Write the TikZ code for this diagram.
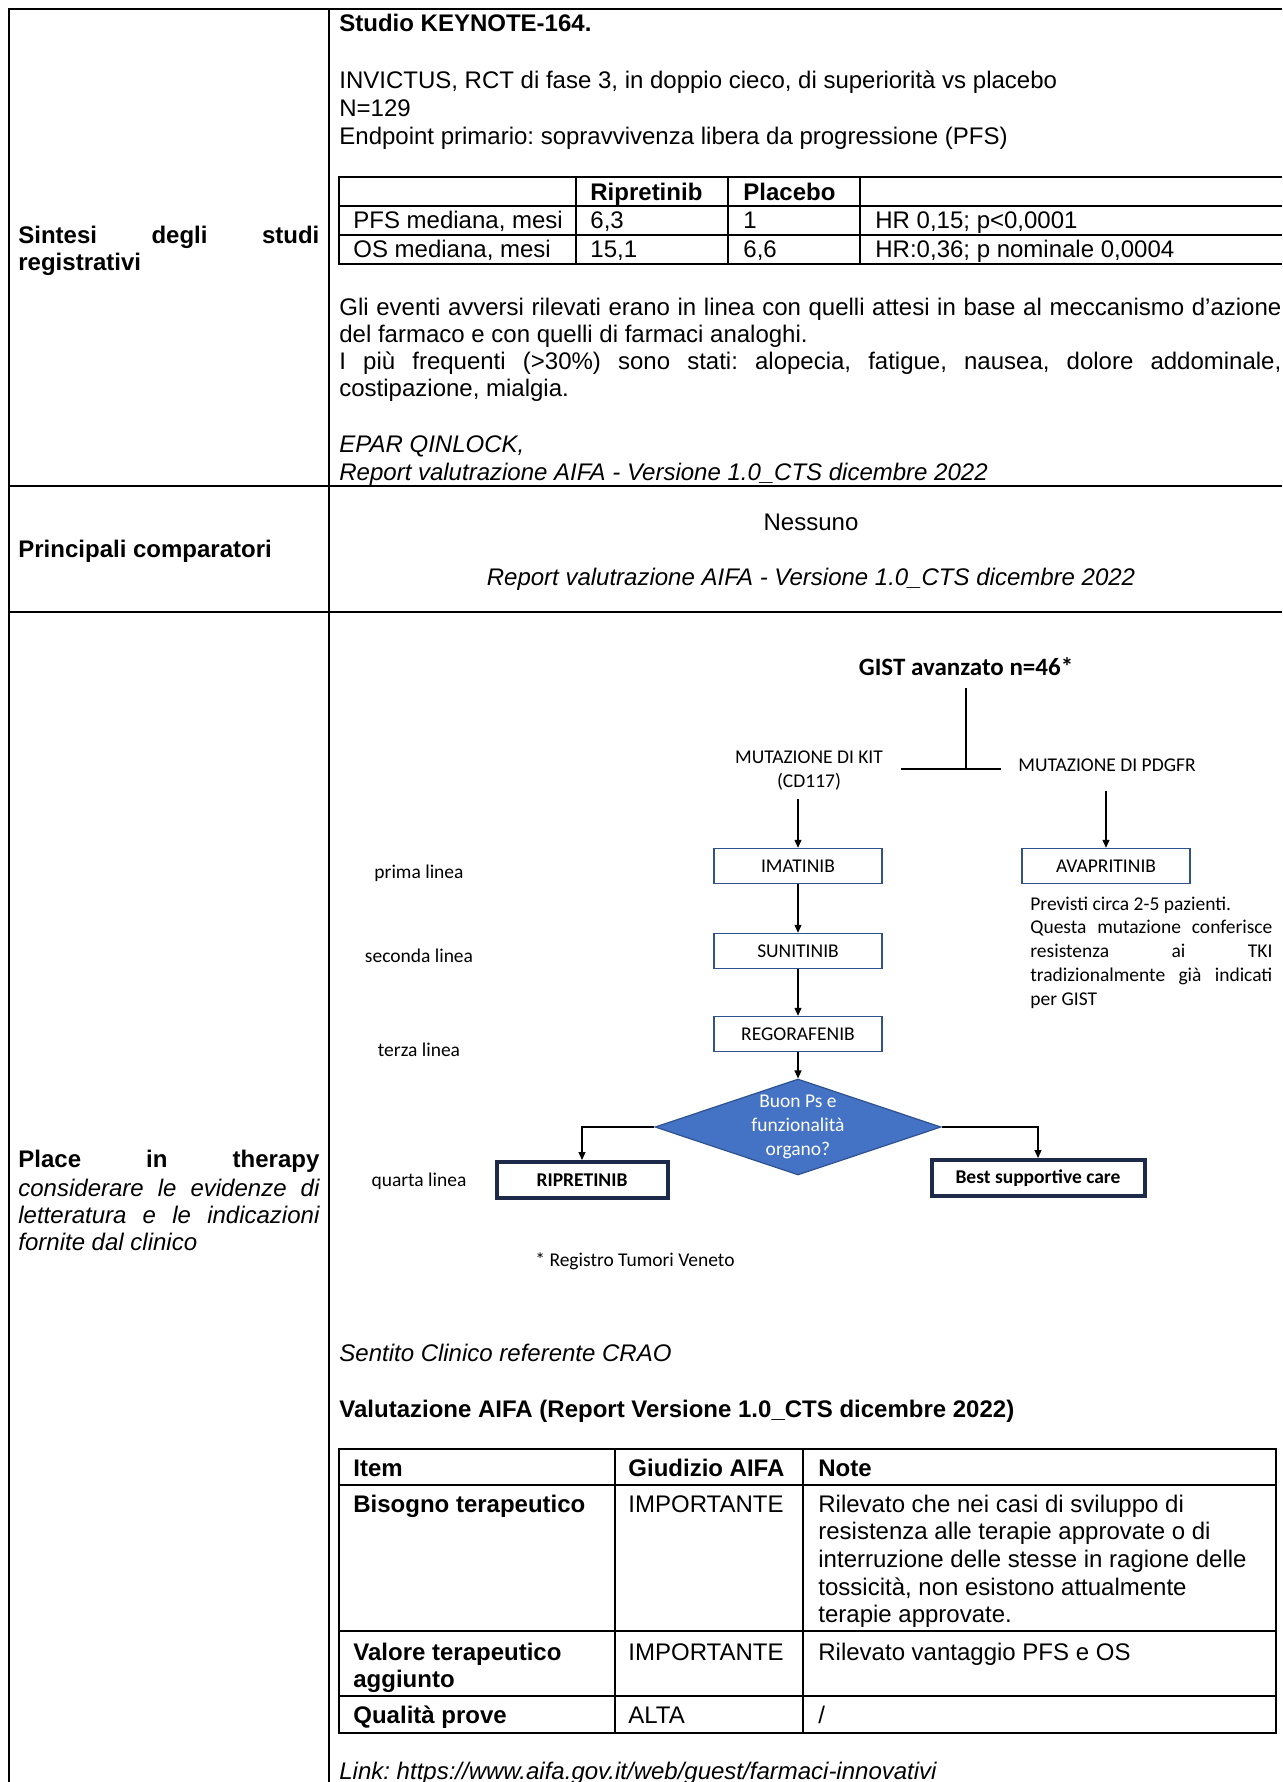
\documentclass[tikz,border=0pt]{standalone}
\usepackage{fontspec}
\setmainfont{Liberation Sans}
\newfontfamily\calibri{Carlito}
\usetikzlibrary{arrows.meta,shapes.geometric}
\definecolor{boxline}{RGB}{47,82,143}
\definecolor{navy}{RGB}{30,42,74}
\definecolor{decfill}{RGB}{68,114,196}
\frenchspacing
\begin{document}
\fontsize{12}{13.8}\selectfont
\begin{tikzpicture}[x=.5pt,y=-.5pt,
		txt/.style={anchor=base west,inner sep=0pt},
		fc/.style={inner sep=0pt,font=\calibri\fontsize{9.75}{12}\selectfont},
		box/.style={fc,draw=boxline,line width=.7pt,fill=white,minimum width=84pt,minimum height=17.5pt},
		bigbox/.style={fc,font=\calibri\bfseries\fontsize{9.75}{12}\selectfont,draw=navy,line width=2pt,fill=white,minimum height=18pt},
		arr/.style={line width=.6pt,-{Triangle[length=4pt,width=3.5pt]}},
		rule/.style={line width=1pt},
		cell/.style={line width=.75pt}]
	\useasboundingbox (0,0) rectangle (1282,1782);
	\draw[rule] (1282,9) -- (9,9) -- (9,1782) (329,9) -- (329,1782);
	\foreach \y in {486,612}
		\draw[rule] (9,\y) -- (1282,\y);
	\node[txt,font=\bfseries] (sint1) at (18,243) {\makebox[150.5pt][s]{Sintesi degli studi}};
	\node[txt,font=\bfseries] (sint2) at (18,270) {registrativi};
	\node[txt,font=\bfseries] (comp) at (18,557) {Principali comparatori};
	\node[txt,font=\bfseries] (pit) at (18,1167) {\makebox[150.5pt][s]{Place in therapy}};
	\foreach \t[count=\i from 0] in {
			{\makebox[150.5pt][s]{considerare le evidenze di}},
			{\makebox[150.5pt][s]{letteratura e le indicazioni}},
			fornite dal clinico
		}
	\node[txt,font=\itshape] (pitnote\i) at (18,1196+27.3*\i) {\t};
	\node[txt,font=\bfseries] (study) at (339,32) {Studio KEYNOTE-164.};
	\foreach \t[count=\i from 0] in {
			{INVICTUS, RCT di fase 3, in doppio cieco, di superiorità vs placebo},
			N=129,
			{Endpoint primario: sopravvivenza libera da progressione (PFS)}
		}
	\node[txt] (design\i) at (339,89+27.5*\i) {\t};
	\draw[cell] (1282,177) -- (339,177) -- (339,264) -- (1282,264);
	\foreach \y in {206,235}
		\draw[cell] (339,\y) -- (1282,\y);
	\foreach \x in {576,728,860}
		\draw[cell] (\x,177) -- (\x,264);
	\node[txt,font=\bfseries] (hrip) at (590,200) {Ripretinib};
	\node[txt,font=\bfseries] (hpla) at (743,200) {Placebo};
	\foreach \x/\t[count=\i] in {353/{PFS mediana, mesi},590/{6,3},743/1,875/{HR 0,15; p<0,0001}}
		\node[txt] (pfs\i) at (\x,228) {\t};
	\foreach \x/\t[count=\i] in {353/{OS mediana, mesi},590/{15,1},743/{6,6},875/{HR:0,36; p nominale 0,0004}}
		\node[txt] (os\i) at (\x,257) {\t};
	\foreach \t[count=\i from 0] in {
			{\makebox[471pt][s]{Gli eventi avversi rilevati erano in linea con quelli attesi in base al meccanismo d’azione}},
			del farmaco e con quelli di farmaci analoghi.,
			{\makebox[471pt][s]{I più frequenti (>30\%) sono stati: alopecia, fatigue, nausea, dolore addominale,}},
			{costipazione, mialgia.}
		}
	\node[txt] (ae\i) at (339,315+27.3*\i) {\t};
	\node[txt,font=\itshape] (epar) at (339,452) {EPAR QINLOCK,};
	\node[txt,font=\itshape] (src1) at (339,480) {Report valutrazione AIFA - Versione 1.0\_CTS dicembre 2022};
	\node[txt,anchor=base] (none) at (811,530) {Nessuno};
	\node[txt,anchor=base,font=\itshape] (src2) at (811,585) {Report valutrazione AIFA - Versione 1.0\_CTS dicembre 2022};
	\node[fc,font=\calibri\bfseries\fontsize{12.5}{15}\selectfont,outer sep=6pt] (gist) at (966,667) {GIST avanzato n=46*};
	\coordinate (split) at (967,769);
	\coordinate (barl) at (901,769);
	\coordinate (barr) at (1001,769);
	\draw[line width=.6pt] (gist.south) -- (gist.south |- split) (barl) -- (barr);
	\node[fc,align=center,outer sep=4pt] (kit) at (809,771) {MUTAZIONE DI KIT\\(CD117)};
	\node[fc,outer sep=10pt] (pdgfr) at (1107,765) {MUTAZIONE DI PDGFR};
	\node[box] (ima) at (798,866) {IMATINIB};
	\node[box] (suni) at (798,951) {SUNITINIB};
	\node[box] (rego) at (798,1034) {REGORAFENIB};
	\node[box] (ava) at (1106,866) {AVAPRITINIB};
	\node[fc,diamond,fill=decfill,draw=boxline,line width=.6pt,text=white,align=center,inner sep=-10pt,minimum width=143pt,minimum height=48pt] (dec) at (798,1127) {\raisebox{-1.5pt}{\parbox{50pt}{\centering Buon Ps e\\funzionalità\\organo?}}};
	\node[bigbox,minimum width=85.5pt] (rip) at (582,1180) {RIPRETINIB};
	\node[bigbox,minimum width=106.5pt] (bsc) at (1038,1178) {Best supportive care};
	\draw[arr] (ima.north |- kit.south) -- (ima);
	\draw[arr] (ava.north |- pdgfr.south) -- (ava);
	\draw[arr] (ima) -- (suni);
	\draw[arr] (suni) -- (rego);
	\draw[arr] (rego) -- (dec);
	\draw[arr] (dec.west) -| (rip);
	\draw[arr] (dec.east) -| (bsc);
	\foreach \t/\y[count=\i] in {prima linea/878,seconda linea/962,terza linea/1056,quarta linea/1186}
		\node[fc,anchor=base] (line\i) at (419,\y) {\t};
	\foreach \t[count=\i from 0] in {
			Previsti circa 2-5 pazienti.,
			{\makebox[121pt][s]{Questa mutazione conferisce}},
			{\makebox[121pt][s]{resistenza ai TKI}},
			{\makebox[121pt][s]{tradizionalmente già indicati}},
			per GIST
		}
	\node[fc,anchor=base west] (avanote\i) at (1030,910+23.8*\i) {\t};
	\node[fc,anchor=base west] (reg) at (535,1266) {* Registro Tumori Veneto};
	\node[txt,font=\itshape] (clin) at (339,1361) {Sentito Clinico referente CRAO};
	\node[txt,font=\bfseries] (aifa) at (339,1417) {Valutazione AIFA (Report Versione 1.0\_CTS dicembre 2022)};
	\draw[cell] (339,1449) rectangle (1276,1733);
	\foreach \y in {1485,1631,1696}
		\draw[cell] (339,\y) -- (1276,\y);
	\foreach \x in {615,803}
		\draw[cell] (\x,1449) -- (\x,1733);
	\foreach \x/\t[count=\i] in {353/Item,628/Giudizio AIFA,818/Note}
		\node[txt,font=\bfseries] (head\i) at (\x,1476) {\t};
	\node[txt,font=\bfseries] (need) at (353,1512) {Bisogno terapeutico};
	\node[txt] (needv) at (628,1512) {IMPORTANTE};
	\foreach \t[count=\i from 0] in {
			Rilevato che nei casi di sviluppo di,
			resistenza alle terapie approvate o di,
			interruzione delle stesse in ragione delle,
			{tossicità, non esistono attualmente},
			terapie approvate.
		}
	\node[txt] (neednote\i) at (818,1512+27.7*\i) {\t};
	\node[txt,font=\bfseries] (val1) at (353,1660) {Valore terapeutico};
	\node[txt,font=\bfseries] (val2) at (353,1687) {aggiunto};
	\node[txt] (valv) at (628,1660) {IMPORTANTE};
	\node[txt] (valnote) at (818,1660) {Rilevato vantaggio PFS e OS};
	\node[txt,font=\bfseries] (qual) at (353,1723) {Qualità prove};
	\node[txt] (qualv) at (628,1723) {ALTA};
	\node[txt] (qualnote) at (818,1723) {/};
	\node[txt,font=\itshape] (link) at (339,1779) {Link: https://www.aifa.gov.it/web/guest/farmaci-innovativi};
\end{tikzpicture}
\end{document}
